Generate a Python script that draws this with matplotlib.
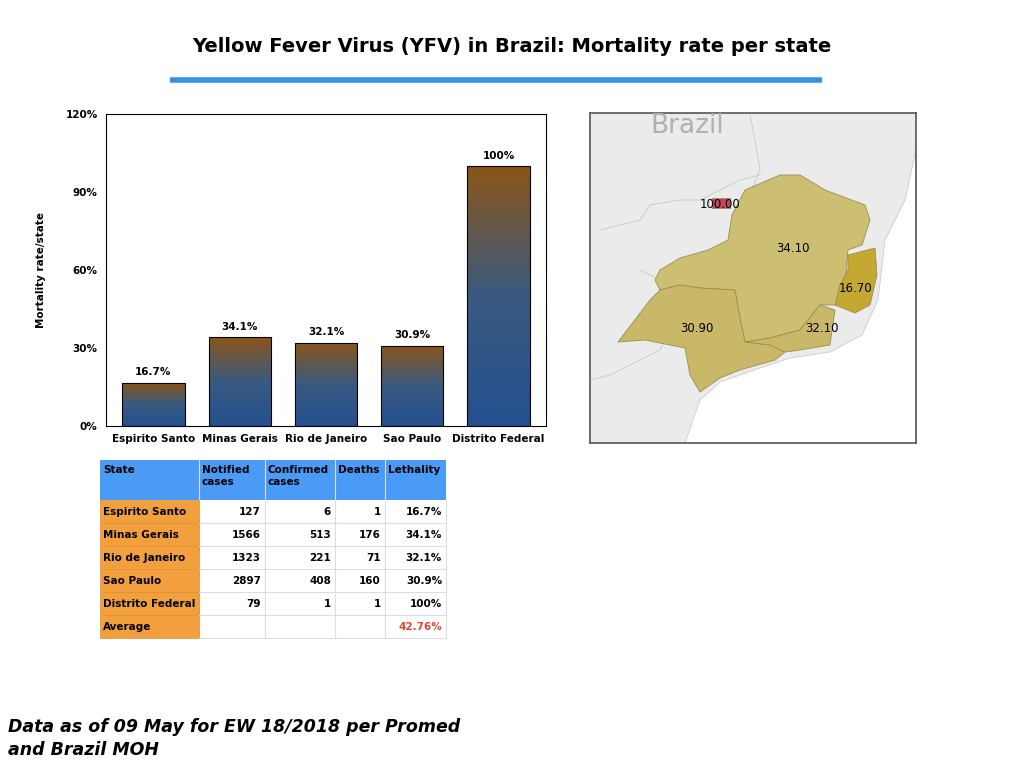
import matplotlib

matplotlib.use("Agg")

import matplotlib.pyplot as plt
import numpy as np
from matplotlib.patches import Polygon, Rectangle

states = ["Espirito Santo", "Minas Gerais", "Rio de Janeiro", "Sao Paulo", "Distrito Federal"]
rates = [16.7, 34.1, 32.1, 30.9, 100.0]
notified = [127, 1566, 1323, 2897, 79]
confirmed = [6, 513, 221, 408, 1]
deaths = [1, 176, 71, 160, 1]
average = 42.76
y_ticks = [0, 30, 60, 90, 120]

# rough state outlines in map pixel space
outlines = {
    "Minas Gerais": [(660, 270), (680, 258), (708, 250), (728, 240), (732, 215), (745, 190), (780, 175),
                     (800, 175), (825, 190), (865, 205), (870, 220), (862, 245), (848, 250), (845, 285),
                     (838, 305), (820, 305), (800, 330), (770, 338), (745, 342), (740, 318),
                     (735, 290), (700, 288), (680, 285), (660, 290), (655, 280)],
    "Sao Paulo": [(618, 342), (650, 300), (660, 290), (680, 285), (700, 288), (735, 290), (740, 318),
                  (745, 342), (770, 345), (785, 352), (775, 360), (740, 370), (720, 378), (700, 392),
                  (690, 375), (685, 348), (645, 340)],
    "Rio de Janeiro": [(745, 342), (770, 338), (800, 330), (820, 305), (835, 310), (830, 345), (800, 350),
                       (785, 352), (770, 345)],
    "Espirito Santo": [(848, 255), (875, 248), (877, 275), (870, 305), (855, 313), (835, 305), (840, 285),
                       (848, 270)],
    "Distrito Federal": [(712, 198), (730, 198), (730, 208), (712, 208)],
}
label_pos = {"Minas Gerais": (793, 248), "Sao Paulo": (697, 329), "Rio de Janeiro": (822, 329),
             "Espirito Santo": (855, 288), "Distrito Federal": (720, 204)}
fill = {"Minas Gerais": "#CDBF72", "Sao Paulo": "#C9B868", "Rio de Janeiro": "#C9B868",
        "Espirito Santo": "#C4A830", "Distrito Federal": "#C0485A"}
draw_order = {"Minas Gerais": 2, "Sao Paulo": 3, "Rio de Janeiro": 4, "Espirito Santo": 5, "Distrito Federal": 6}

W, H = 1024, 768
fig = plt.figure(figsize=(W / 100, H / 100), dpi=100)


def px_axes(x0, y0, x1, y1):
    return fig.add_axes([x0 / W, 1 - y1 / H, (x1 - x0) / W, (y1 - y0) / H])


# overlay for title, table, footnote
ov = fig.add_axes([0, 0, 1, 1])
ov.set_xlim(0, W)
ov.set_ylim(H, 0)
ov.axis("off")
ov.text(512, 46, "Yellow Fever Virus (YFV) in Brazil: Mortality rate per state", ha="center", va="center",
        fontsize=14, fontweight="bold")
ov.plot([170, 822], [80, 80], color="#3A8FE8", lw=4, solid_capstyle="butt")
ov.text(8, 727, "Data as of 09 May for EW 18/2018 per Promed", fontsize=12.5, fontweight="bold",
        style="italic", va="center")
ov.text(8, 750, "and Brazil MOH", fontsize=12.5, fontweight="bold", style="italic", va="center")

# bar chart
ax = px_axes(106, 114, 546, 426)
gradient = np.linspace(0, 1, 256).reshape(-1, 1)
cmap = matplotlib.colors.LinearSegmentedColormap.from_list("g", ["#245090", "#3A5A80", "#8B5518"])
x = np.arange(len(states))
bars = ax.bar(x, rates, width=0.72, color="none", edgecolor="black", linewidth=0.8, zorder=3)
for b, v in zip(bars, rates):
    x0, w, h = b.get_x(), b.get_width(), b.get_height()
    im = ax.imshow(gradient, extent=[x0, x0 + w, 0, h], origin="lower", aspect="auto", cmap=cmap, zorder=2)
    im.set_clip_path(b)
    ax.text(x0 + w / 2, h + 2, f"{v:g}%" if v < 100 else "100%", ha="center", va="bottom",
            fontsize=7.5, fontweight="bold")
ax.set_xlim(-0.55, len(states) - 0.45)
ax.set_ylim(0, 120)
ax.set_yticks(y_ticks)
ax.set_yticklabels([f"{t}%" for t in y_ticks], fontsize=7.5, fontweight="bold")
ax.set_xticks(x)
ax.set_xticklabels(states, fontsize=7.5, fontweight="bold")
ax.tick_params(length=0, pad=6)
ax.set_ylabel("Mortality rate/state", fontsize=7.5, fontweight="bold", labelpad=14)

# map
mp = px_axes(590, 113, 916, 443)
mp.set_xlim(590, 916)
mp.set_ylim(443, 113)
mp.set_facecolor("#EBEBEB")
mp.set_xticks([])
mp.set_yticks([])
for s in mp.spines.values():
    s.set_color("#555555")
    s.set_linewidth(1.2)
sea = [(916, 150), (905, 200), (885, 240), (878, 300), (862, 335), (830, 352), (790, 358), (760, 368),
       (720, 382), (700, 400), (685, 443), (916, 443)]
mp.add_patch(Polygon(sea, closed=True, facecolor="white", edgecolor="#CCCCCC", lw=0.6))
# faint neighbouring borders
mp.plot([600, 640, 650, 680, 700, 720, 740, 760], [230, 220, 205, 200, 200, 190, 180, 175], color="#C8C8C8", lw=0.6)
mp.plot([590, 610, 640, 660, 670], [380, 375, 360, 350, 330], color="#C8C8C8", lw=0.6)
mp.plot([750, 755, 760, 752], [115, 140, 170, 190], color="#C8C8C8", lw=0.6)
mp.plot([640, 660, 700], [270, 280, 275], color="#C8C8C8", lw=0.6)
for st, rate in zip(states, rates):
    mp.add_patch(Polygon(outlines[st], closed=True, facecolor=fill[st], edgecolor="#9A8E55", lw=0.6,
                         zorder=draw_order[st]))
    lx, ly = label_pos[st]
    mp.text(lx, ly, f"{rate:.2f}", ha="center", va="center", fontsize=8.5, zorder=10)
mp.text(650, 126, "Brazil", fontsize=19, color="#B0B0B0", va="center")

# table
col_x = [100, 199, 265, 335, 385, 446]
header = ["State", "Notified\ncases", "Confirmed\ncases", "Deaths", "Lethality"]
ov.add_patch(Rectangle((col_x[0], 460), col_x[-1] - col_x[0], 40, facecolor="#4A9BF5", edgecolor="none"))
for i, hd in enumerate(header):
    ov.text(col_x[i] + 3, 465, hd, fontsize=7.5, fontweight="bold", va="top", linespacing=1.2)
    if i:
        ov.plot([col_x[i]] * 2, [460, 638], color="#DDDDDD", lw=0.8, zorder=1)
rows = [[s, f"{n}", f"{c}", f"{d}", f"{r:g}%" if r < 100 else "100%"]
        for s, n, c, d, r in zip(states, notified, confirmed, deaths, rates)]
rows.append(["Average", "", "", "", f"{average:.2f}%"])
for r, row in enumerate(rows):
    y0 = 500 + 23 * r
    ov.add_patch(Rectangle((col_x[0], y0), col_x[1] - col_x[0], 23, facecolor="#F2A03D",
                           edgecolor="#E09030", lw=0.5))
    ov.plot([col_x[1], col_x[-1]], [y0 + 23, y0 + 23], color="#DDDDDD", lw=0.8)
    for i, val in enumerate(row):
        color = "#E0452E" if r == len(rows) - 1 and i == 4 else "black"
        if i == 0:
            ov.text(col_x[0] + 3, y0 + 12, val, fontsize=7.5, fontweight="bold", va="center")
        else:
            ov.text(col_x[i + 1] - 4, y0 + 12, val, fontsize=7.5, fontweight="bold", va="center",
                    ha="right", color=color)
ov.plot([col_x[-1]] * 2, [500, 638], color="#DDDDDD", lw=0.8)

fig.savefig("out.png", dpi=100)
